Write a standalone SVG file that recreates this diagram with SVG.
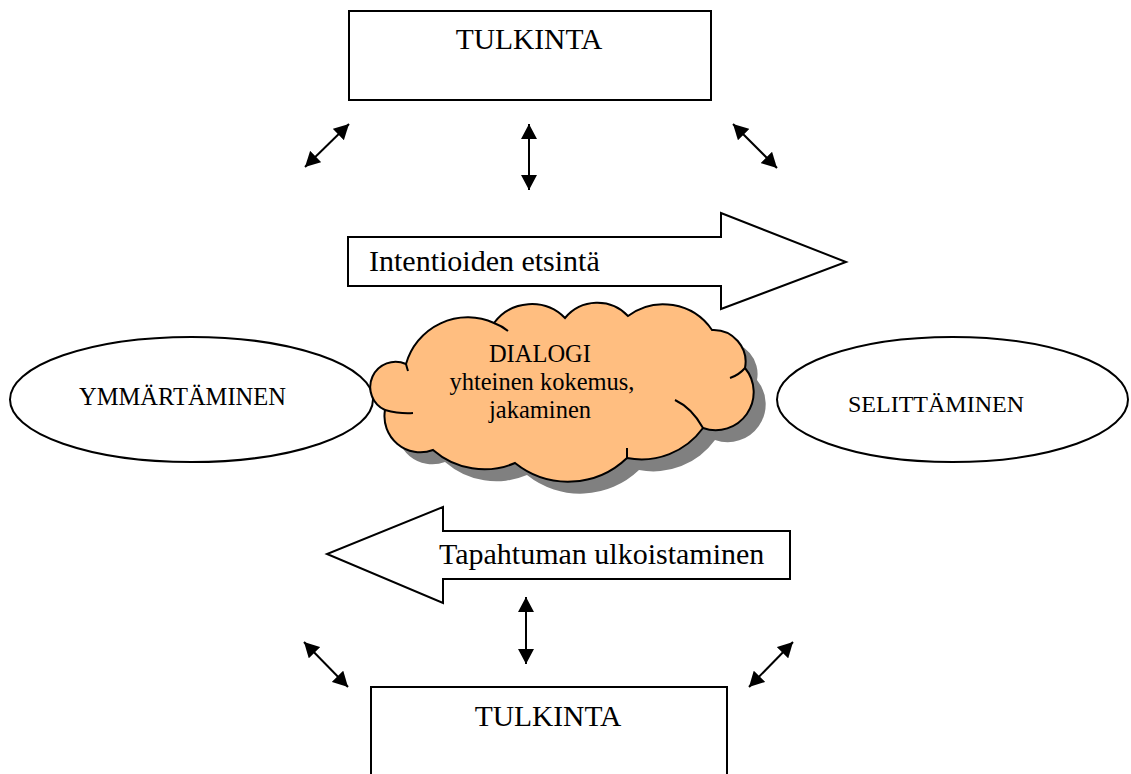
<svg xmlns="http://www.w3.org/2000/svg" width="1131" height="774" viewBox="0 0 1131 774">
<style>
.box{fill:#fff;stroke:#000;stroke-width:2}
.txt{font-family:"Liberation Serif","Times New Roman",serif;fill:#000}
.conn{stroke:#000;stroke-width:2;fill:none}
.crease{stroke:#000;stroke-width:2;fill:none}
</style>
<defs>
<marker id="ah" viewBox="0 0 15 16" refX="15" refY="8" markerWidth="15" markerHeight="16" markerUnits="userSpaceOnUse" orient="auto-start-reverse">
<path d="M0,0 L15,8 L0,16 z" fill="#000"/>
</marker>
<path id="cloudShape" d="M385,410 A25 25 0 0 1 406,364 A64 64 0 0 1 494,323 A47 47 0 0 1 565,318 A42 42 0 0 1 628,316 A59 59 0 0 1 712,330 A32 32 0 0 1 745,368 A38 38 0 0 1 703,428 A76 76 0 0 1 627,458 A85 85 0 0 1 515,463 A78 78 0 0 1 433,450 A36 36 0 0 1 385,410 Z"/>
</defs>
<rect width="1131" height="774" fill="#fff"/>

<g id="tulkinta-top">
<rect class="box" x="349" y="11" width="362" height="89"/>
<text class="txt" x="529" y="49" font-size="29.5" text-anchor="middle">TULKINTA</text>
</g>

<g id="tulkinta-bottom">
<rect class="box" x="371" y="687" width="356" height="100"/>
<text class="txt" x="548" y="726" font-size="29.5" text-anchor="middle">TULKINTA</text>
</g>

<g id="ymmartaminen">
<ellipse class="box" cx="191.5" cy="399.5" rx="181.5" ry="62.5"/>
<text class="txt" x="182.5" y="405" font-size="24.5" text-anchor="middle">YMMÄRTÄMINEN</text>
</g>

<g id="selittaminen">
<ellipse class="box" cx="952.5" cy="399.5" rx="175.5" ry="62.5"/>
<text class="txt" x="936" y="412" font-size="24" text-anchor="middle">SELITTÄMINEN</text>
</g>

<g id="intentioiden">
<polygon class="box" points="348,237 721,237 721,213 846,262 721,309 721,286 348,286"/>
<text class="txt" x="369" y="271" font-size="30">Intentioiden etsintä</text>
</g>

<g id="tapahtuman">
<polygon class="box" points="790,531 443,531 443,507 327,554 443,603 443,579 790,579"/>
<text class="txt" x="439" y="564" font-size="30">Tapahtuman ulkoistaminen</text>
</g>

<g id="dialogi">
<use href="#cloudShape" transform="translate(12,12)" fill="#808080"/>
<use href="#cloudShape" fill="#FFBE80" stroke="#000" stroke-width="2"/>
<path class="crease" d="M385,410 Q400,414 413,413"/>
<path class="crease" d="M703,428 Q692,408 675,400"/>
<path class="crease" d="M745,368 Q739,375 730,378"/>
<path class="crease" d="M494,323 Q502,326 508,331"/>
<path class="crease" d="M627,448 L627,458"/>
<path class="crease" d="M406,364 Q407,368 408,371"/>
<text class="txt" font-size="24.5" text-anchor="middle">
<tspan x="543" y="362">DIALOGI</tspan>
<tspan x="545" y="390">yhteinen kokemus,</tspan>
<tspan x="540" y="418">jakaminen</tspan>
</text>
</g>

<g id="connectors">
<line class="conn" x1="305" y1="167" x2="349" y2="124" marker-start="url(#ah)" marker-end="url(#ah)"/>
<line class="conn" x1="529" y1="124" x2="529" y2="190" marker-start="url(#ah)" marker-end="url(#ah)"/>
<line class="conn" x1="733" y1="124" x2="777" y2="168" marker-start="url(#ah)" marker-end="url(#ah)"/>
<line class="conn" x1="526" y1="597" x2="526" y2="664" marker-start="url(#ah)" marker-end="url(#ah)"/>
<line class="conn" x1="304" y1="642" x2="348" y2="687" marker-start="url(#ah)" marker-end="url(#ah)"/>
<line class="conn" x1="793" y1="642" x2="749" y2="687" marker-start="url(#ah)" marker-end="url(#ah)"/>
</g>
</svg>
